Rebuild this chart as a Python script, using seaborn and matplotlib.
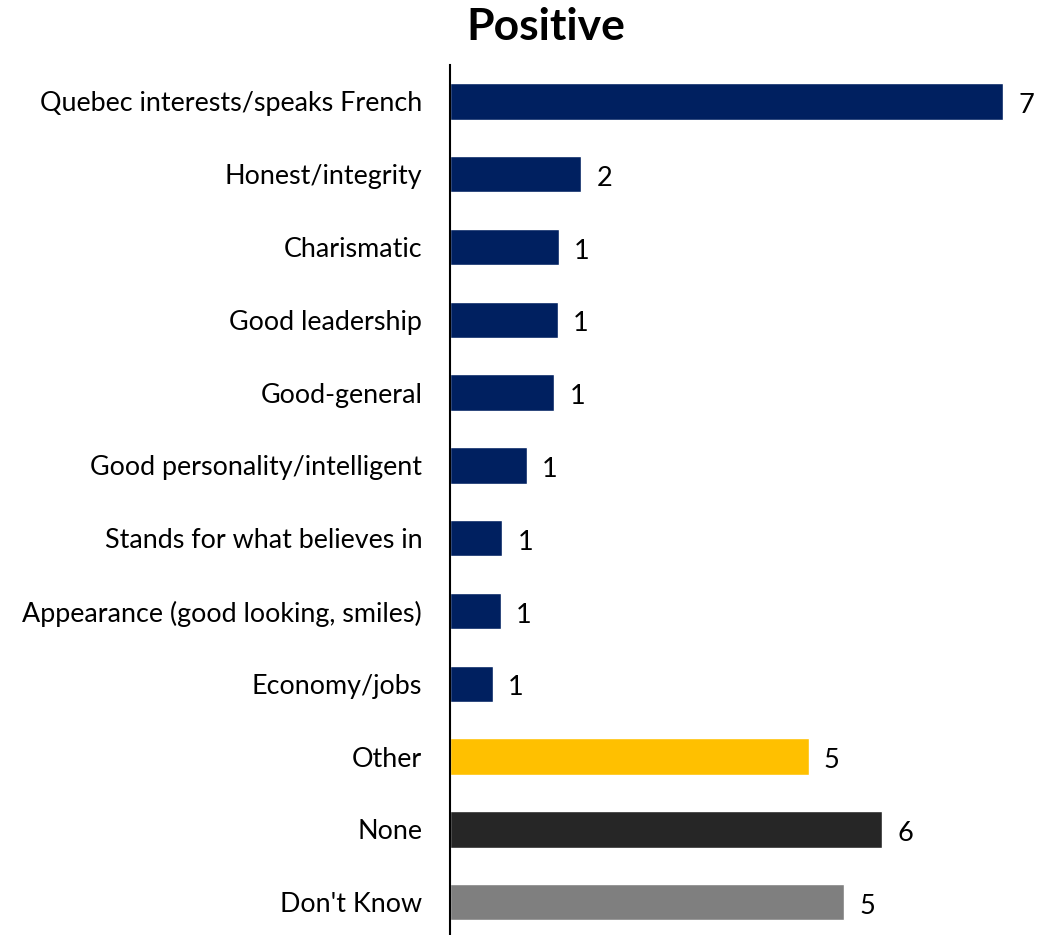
import pandas as pd
import matplotlib.pyplot as plt
import seaborn as sns

categories = ["Quebec interests/speaks French", "Honest/integrity", "Charismatic",
              "Good leadership", "Good-general", "Good personality/intelligent",
              "Stands for what believes in", "Appearance (good looking, smiles)",
              "Economy/jobs", "Other", "None", "Don't Know"]
values = [7.28, 1.73, 1.43, 1.42, 1.37, 1.01, 0.69, 0.67, 0.56, 4.72, 5.69, 5.19]
colors = ["#002060"] * 9 + ["#FFC000", "#262626", "#7F7F7F"]

df = pd.DataFrame({"category": categories, "value": values})

sns.set_style("white")
plt.rcParams["font.family"] = ["Lato", "DejaVu Sans"]
plt.rcParams["text.color"] = "black"
plt.rcParams["ytick.color"] = "black"

fig = plt.figure(figsize=(10.38, 9.35), dpi=100)
ax = fig.add_axes([450 / 1038, 0, 588 / 1038, 870 / 935])

sns.barplot(data=df, x="value", y="category", hue="category", palette=colors,
            saturation=1, legend=False, width=0.5, ax=ax)

# labels show rounded values
for bar, v in zip(ax.patches, values):
    ax.annotate(f"{round(v)}", (bar.get_width(), bar.get_y() + bar.get_height() / 2),
                xytext=(11, -3), textcoords="offset points", va="center", ha="left",
                fontsize=19.5, color="black")

ax.set_xlim(0, 7.74)
ax.set_ylim(11.45, -0.5)
ax.set_xlabel("")
ax.set_ylabel("")
ax.set_xticks([])
ax.tick_params(axis="y", length=0, pad=20, labelsize=19.4, labelcolor="black")
for s in ["top", "right", "bottom"]:
    ax.spines[s].set_visible(False)
ax.spines["left"].set_color("black")
ax.spines["left"].set_linewidth(1.5)

fig.text(546 / 1038, 1 - 27 / 935, "Positive", ha="center", va="center",
         fontsize=32, fontweight="bold", color="black")

plt.savefig("out.png", dpi=100)
